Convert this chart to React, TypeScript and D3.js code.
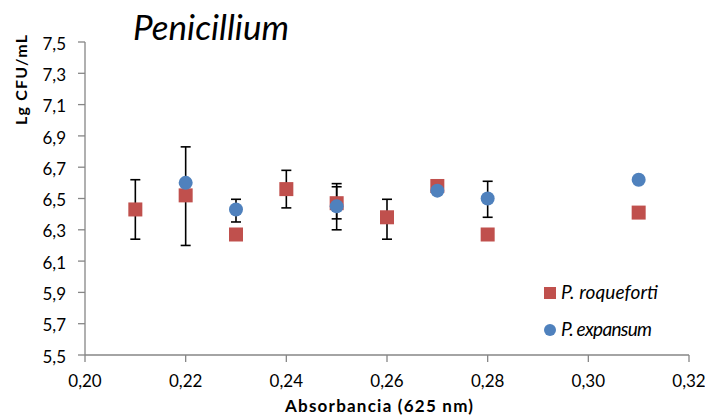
import React from "react";
import * as d3 from "d3";

const xTicks = [0.2, 0.22, 0.24, 0.26, 0.28, 0.3, 0.32];
const yTicks = [5.5, 5.7, 5.9, 6.1, 6.3, 6.5, 6.7, 6.9, 7.1, 7.3, 7.5];

const roqX = [0.21, 0.22, 0.23, 0.24, 0.25, 0.26, 0.27, 0.28, 0.31];
const roqY = [6.43, 6.52, 6.27, 6.56, 6.47, 6.38, 6.58, 6.27, 6.41];

const expX = [0.22, 0.23, 0.25, 0.27, 0.28, 0.31];
const expY = [6.6, 6.43, 6.45, 6.55, 6.5, 6.62];

// error bars: x, low, high
const errX = [0.21, 0.22, 0.23, 0.24, 0.25, 0.25, 0.26, 0.27, 0.28];
const errLow = [6.24, 6.2, 6.35, 6.44, 6.3, 6.37, 6.24, 6.53, 6.38];
const errHigh = [6.62, 6.83, 6.495, 6.68, 6.595, 6.575, 6.495, 6.59, 6.61];

const fmt = (v: number, d: number) => v.toFixed(d).replace(".", ",");

export default function App() {
  const W = 705, H = 417;
  const x = d3.scaleLinear().domain([0.2, 0.32]).range([85, 689]);
  const y = d3.scaleLinear().domain([5.5, 7.5]).range([355, 42]);
  const red = "#C0504D";
  const blue = "#4F81BD";
  const axisC = "#868686";
  const font = "Lato, 'Open Sans', sans-serif";
  const sq = 14;
  return (
    <svg width={W} height={H} style={{ position: "absolute", left: 0, top: 0, background: "#fff" }} fontFamily={font}>
      <rect width={W} height={H} fill="#fff" />
      <text x={133} y={40} fontSize={35} fontStyle="italic" fill="#000">Penicillium</text>
      {/* y axis */}
      <line x1={85} x2={85} y1={y(7.5)} y2={y(5.5)} stroke={axisC} strokeWidth={1.3} />
      {yTicks.map((t) => (
        <g key={"y" + t}>
          <line x1={78} x2={85} y1={y(t)} y2={y(t)} stroke={axisC} strokeWidth={1.3} />
          <text x={66} y={y(t)} dy="0.45em" textAnchor="end" fontSize={17} fill="#000">{fmt(t, 1)}</text>
        </g>
      ))}
      {/* x axis */}
      <line x1={85} x2={689} y1={355} y2={355} stroke={axisC} strokeWidth={1.3} />
      {xTicks.map((t) => (
        <g key={"x" + t}>
          <line x1={x(t)} x2={x(t)} y1={355} y2={362} stroke={axisC} strokeWidth={1.3} />
          <text x={x(t)} y={387} textAnchor="middle" fontSize={17} fill="#000">{fmt(t, 2)}</text>
        </g>
      ))}
      <text x={285} y={412} fontSize={17} fontWeight="bold" fill="#000" textLength={188} lengthAdjust="spacing">Absorbancia  (625 nm)</text>
      <text transform="translate(27,125) rotate(-90)" fontSize={16} fontWeight="bold" fill="#000" textLength={90} lengthAdjust="spacing">Lg CFU/mL</text>
      {/* error bars */}
      {errX.map((v, i) => (
        <g key={"e" + i} stroke="#000" strokeWidth={1.6}>
          <line x1={x(v)} x2={x(v)} y1={y(errLow[i])} y2={y(errHigh[i])} />
          <line x1={x(v) - 5} x2={x(v) + 5} y1={y(errLow[i])} y2={y(errLow[i])} />
          <line x1={x(v) - 5} x2={x(v) + 5} y1={y(errHigh[i])} y2={y(errHigh[i])} />
        </g>
      ))}
      {roqX.map((v, i) => (
        <rect key={"r" + i} x={x(v) - sq / 2} y={y(roqY[i]) - sq / 2} width={sq} height={sq} fill={red} />
      ))}
      {expX.map((v, i) => (
        <circle key={"b" + i} cx={x(v)} cy={y(expY[i])} r={7} fill={blue} />
      ))}
      {/* legend */}
      <rect x={544} y={287} width={12} height={12} fill={red} />
      <text x={561} y={299} fontSize={19} fontStyle="italic" fill="#000" textLength={97} lengthAdjust="spacing">P. roqueforti</text>
      <circle cx={550} cy={330} r={6} fill={blue} />
      <text x={561} y={336} fontSize={19} fontStyle="italic" fill="#000" textLength={91} lengthAdjust="spacing">P. expansum</text>
    </svg>
  );
}
